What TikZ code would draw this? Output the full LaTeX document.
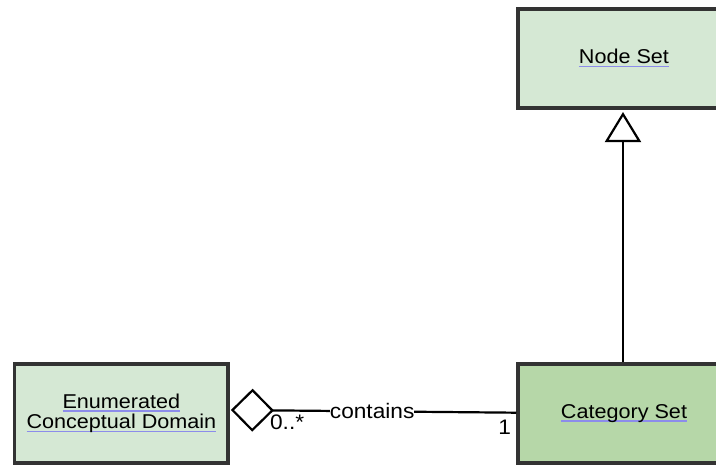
\documentclass[tikz,border=0pt]{standalone}
\usepackage{fontspec}
\setmainfont{Liberation Sans}[FakeStretch=1.08]
\usetikzlibrary{arrows.meta,calc}
\definecolor{lightgreen}{RGB}{213,232,212}
\definecolor{midgreen}{RGB}{182,215,168}
\definecolor{bordergray}{RGB}{51,51,51}
\definecolor{ulblue}{RGB}{140,140,235}
\newcommand\bul[1]{\sbox0{#1}\rlap{\color{ulblue}\rule[-3.2pt]{\wd0}{1.3pt}}\usebox0}
\tikzset{
  classbox/.style={draw=bordergray, line width=3.5pt, fill=lightgreen,
    minimum width=212pt, minimum height=99pt, inner sep=0pt, align=center,
    font=\fontsize{20}{20.5}\selectfont},
  conn/.style={line width=2.2pt, black},
  lbl/.style={font=\fontsize{21}{22}\selectfont, inner sep=0pt}
}
\begin{document}
\begin{tikzpicture}[x=1pt,y=-1pt]
\clip (0,0) rectangle (716,465);
\fill[white] (0,0) rectangle (716,465);
\node[classbox] (ns) at (624,58.3) {\bul{Node Set}};
\node[classbox, fill=midgreen] (cat) at (624,413.5) {\bul{Category Set}};
\node[classbox, minimum width=213.5pt] (enum) at (121.4,413.5) {\bul{Enumerated}\\\bul{Conceptual Domain}};
\coordinate (dtip) at ($(enum.east)+(1,-3.5)$);
\coordinate (cend) at ($(cat.west)+(0,-0.8)$);
\draw[conn, -{Diamond[open, length=43pt, width=43pt, line width=2.2pt]}] (cend) -- (dtip)
  node[lbl, pos=0.505, fill=white, inner xsep=0pt, inner ysep=2pt] (contains) {contains};
\node[lbl, anchor=north west] (mult1) at ($(dtip)+(39,5)$) {0..*};
\node[lbl, anchor=north east] (mult2) at ($(cend)+(-5,7)$) {1};
\draw[conn, shorten >=2.5pt, -{Triangle[open, length=30pt, width=36pt, line width=2.2pt]}] ($(cat.north)+(-1,0)$) -- ($(ns.south)+(-1,0)$);
\end{tikzpicture}
\end{document}
